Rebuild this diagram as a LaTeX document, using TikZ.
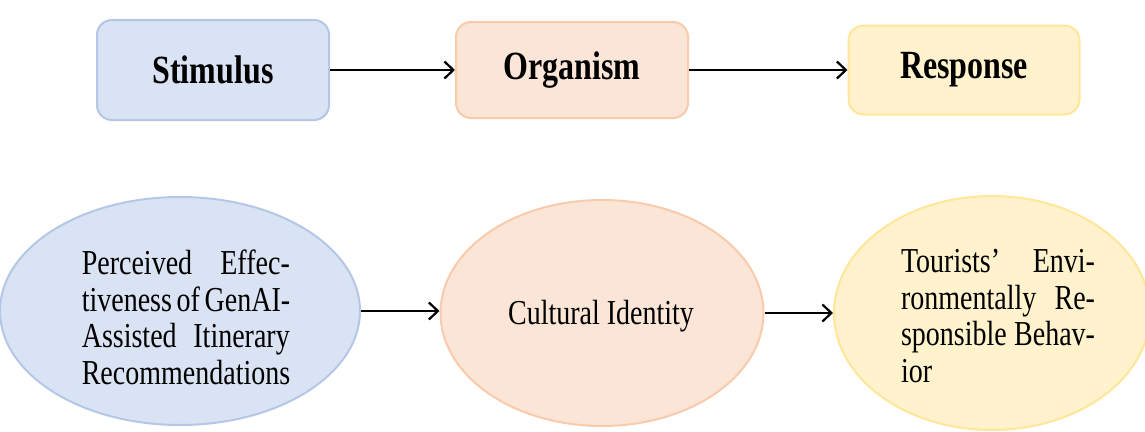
\documentclass[tikz,border=0pt]{standalone}
\usepackage{fontspec}
\setmainfont{Liberation Serif}
\usetikzlibrary{arrows.meta,shapes.geometric}
\definecolor{bfill}{HTML}{DAE3F3}
\definecolor{bdraw}{HTML}{B4C7E7}
\definecolor{ofill}{HTML}{FBE5D6}
\definecolor{odraw}{HTML}{F8CBAD}
\definecolor{yfill}{HTML}{FFF2CC}
\definecolor{ydraw}{HTML}{FFE699}
\newcommand{\vs}[1]{\scalebox{1}[1.25]{#1}}
\newcommand{\jl}[2]{\makebox[#1][s]{#2}}
\tikzset{
  box/.style={rounded corners=15pt, line width=2pt, inner sep=0pt, font=\fontsize{32}{32}\selectfont\bfseries},
  oval/.style={ellipse, line width=2pt, inner sep=0pt},
  conn/.style={line width=2.2pt, -{Straight Barb[length=9pt,width=17pt,line width=2.2pt]}},
  ptext/.style={font=\fontsize{28}{29.3}\selectfont, align=left}
}
\begin{document}
\begin{tikzpicture}[x=1pt,y=-1pt]
\useasboundingbox (0,0) rectangle (1145,431);
\clip (0,0) rectangle (1145,431);
% top boxes
\node[box, fill=bfill, draw=bdraw, minimum width=232pt, minimum height=100pt] (stim) at (213,70) {\vs{Stimulus}};
\node[box, fill=ofill, draw=odraw, minimum width=232pt, minimum height=96pt] (org) at (572,70) {\vs{Organism}};
\node[box, fill=yfill, draw=ydraw, minimum width=231pt, minimum height=89pt] (resp) at (964,70) {\vs{Response}};
\draw[conn] (stim.east) -- (org.west);
\draw[conn] (org.east) -- (resp.west);
% ellipses
\node[oval, fill=bfill, draw=bdraw, minimum width=360pt, minimum height=228pt] (pe) at (180,311) {};
\node[oval, fill=ofill, draw=odraw, minimum width=323pt, minimum height=226pt] (ci) at (602,313) {};
\node[oval, fill=yfill, draw=ydraw, minimum width=316pt, minimum height=234pt] (trb) at (992,313) {};
\node[ptext] (pet) at (186,322) {\vs{\begin{tabular}{@{}l@{}}\jl{208pt}{Perceived Effec-}\\\jl{208pt}{tiveness of GenAI-}\\\jl{208pt}{Assisted Itinerary}\\Recommendations\end{tabular}}};
\node[ptext] (cit) at (601,316) {\vs{Cultural Identity}};
\node[ptext] (trbt) at (998,320) {\vs{\begin{tabular}{@{}l@{}}\jl{194pt}{Tourists’ Envi-}\\\jl{194pt}{ronmentally Re-}\\\jl{194pt}{sponsible Behav-}\\ior\end{tabular}}};
\draw[conn] (pe.east) -- (ci.west |- pe.east);
\draw[conn] (ci.east) -- (trb.west);
\end{tikzpicture}
\end{document}
